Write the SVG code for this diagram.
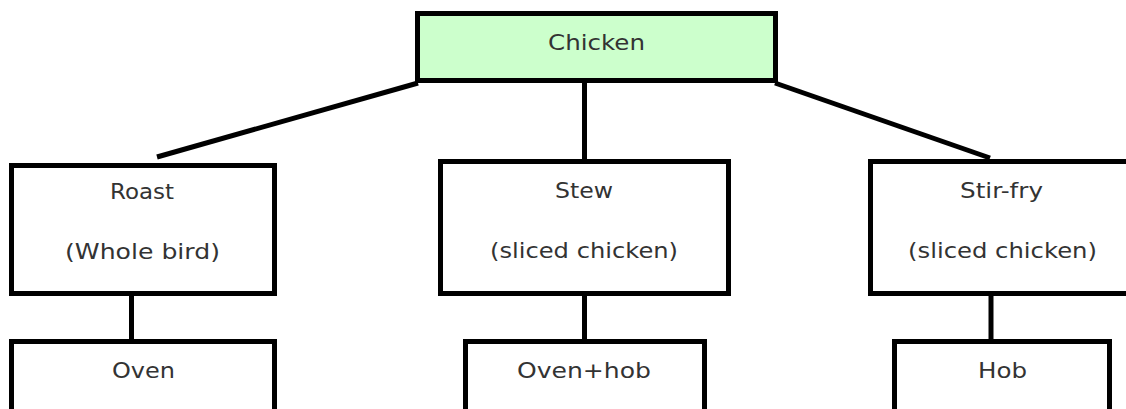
<svg xmlns="http://www.w3.org/2000/svg" width="1126" height="409" viewBox="0 0 1126 409">
  <style>
    .box { fill: #ffffff; stroke: #000000; stroke-width: 5; }
    .root { fill: #ccffcc; }
    .label { font-family: "DejaVu Sans", "Liberation Sans", sans-serif; font-size: 22px; fill: #333333; text-anchor: middle; }
    .link { stroke: #000000; stroke-width: 5; fill: none; }
  </style>
  <rect width="1126" height="409" fill="#ffffff"/>

  <!-- connectors -->
  <g id="connectors">
    <line class="link" x1="418" y1="83" x2="157" y2="157"/>
    <line class="link" x1="584.5" y1="83" x2="584.5" y2="160"/>
    <line class="link" x1="775" y1="83" x2="990" y2="158"/>
    <line class="link" x1="131.5" y1="296" x2="131.5" y2="340"/>
    <line class="link" x1="584.5" y1="296" x2="584.5" y2="340"/>
    <line class="link" x1="991" y1="296" x2="991" y2="340"/>
  </g>

  <g id="chicken">
    <rect class="box root" x="417.5" y="13.5" width="358" height="67"/>
    <text class="label" x="596.5" y="50" textLength="97" lengthAdjust="spacingAndGlyphs">Chicken</text>
  </g>

  <g id="roast">
    <rect class="box" x="11.5" y="165.5" width="263" height="128"/>
    <text class="label" x="142" y="199" textLength="64" lengthAdjust="spacingAndGlyphs">Roast</text>
    <text class="label" x="142.5" y="259" textLength="155" lengthAdjust="spacingAndGlyphs">(Whole bird)</text>
  </g>

  <g id="stew">
    <rect class="box" x="440.5" y="161.5" width="288" height="132"/>
    <text class="label" x="584" y="198" textLength="58" lengthAdjust="spacingAndGlyphs">Stew</text>
    <text class="label" x="584" y="258" textLength="188" lengthAdjust="spacingAndGlyphs">(sliced chicken)</text>
  </g>

  <g id="stirfry">
    <rect class="box" x="870.5" y="161.5" width="270" height="132"/>
    <text class="label" x="1001.5" y="198" textLength="83" lengthAdjust="spacingAndGlyphs">Stir-fry</text>
    <text class="label" x="1002.5" y="258" textLength="189" lengthAdjust="spacingAndGlyphs">(sliced chicken)</text>
  </g>

  <g id="oven">
    <rect class="box" x="11.5" y="341.5" width="263" height="80"/>
    <text class="label" x="143.5" y="378" textLength="63" lengthAdjust="spacingAndGlyphs">Oven</text>
  </g>

  <g id="ovenhob">
    <rect class="box" x="465.5" y="341.5" width="239" height="80"/>
    <text class="label" x="584" y="378" textLength="134" lengthAdjust="spacingAndGlyphs">Oven+hob</text>
  </g>

  <g id="hob">
    <rect class="box" x="894.5" y="341.5" width="215" height="80"/>
    <text class="label" x="1002.5" y="378" textLength="49" lengthAdjust="spacingAndGlyphs">Hob</text>
  </g>
</svg>
